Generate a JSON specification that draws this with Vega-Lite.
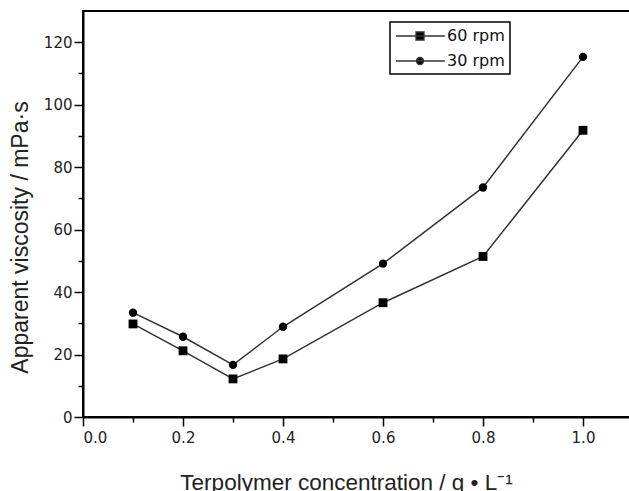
{
  "$schema": "https://vega.github.io/schema/vega-lite/v6.json",
  "width": 550,
  "height": 406,
  "autosize": "none",
  "padding": {"left": 83, "top": 11, "right": 0, "bottom": 74},
  "background": "white",
  "config": {
    "font": "Liberation Sans",
    "view": {"stroke": "black", "strokeWidth": 2},
    "axis": {
      "domainColor": "black",
      "domainWidth": 2,
      "tickColor": "black",
      "tickWidth": 1.5,
      "grid": false,
      "labelFont": "DejaVu Sans",
      "labelFontSize": 15,
      "labelColor": "#222",
      "titleFont": "Liberation Sans",
      "titleFontSize": 22.5,
      "titleFontWeight": "normal",
      "titleColor": "#222"
    }
  },
  "data": {
    "values": [
      {"c": 0.1, "v": 29.8, "s": "60 rpm"},
      {"c": 0.2, "v": 21.2, "s": "60 rpm"},
      {"c": 0.3, "v": 12.2, "s": "60 rpm"},
      {"c": 0.4, "v": 18.6, "s": "60 rpm"},
      {"c": 0.6, "v": 36.6, "s": "60 rpm"},
      {"c": 0.8, "v": 51.4, "s": "60 rpm"},
      {"c": 1.0, "v": 91.8, "s": "60 rpm"},
      {"c": 0.1, "v": 33.4, "s": "30 rpm"},
      {"c": 0.2, "v": 25.7, "s": "30 rpm"},
      {"c": 0.3, "v": 16.7, "s": "30 rpm"},
      {"c": 0.4, "v": 28.9, "s": "30 rpm"},
      {"c": 0.6, "v": 49.1, "s": "30 rpm"},
      {"c": 0.8, "v": 73.5, "s": "30 rpm"},
      {"c": 1.0, "v": 115.3, "s": "30 rpm"}
    ]
  },
  "layer": [
    {
      "mark": {"type": "line", "strokeWidth": 1.5},
      "encoding": {
        "x": {
          "field": "c", "type": "quantitative",
          "scale": {"domain": [0, 1.1], "nice": false, "zero": false},
          "axis": {
            "orient": "bottom",
            "values": [0, 0.2, 0.4, 0.6, 0.8, 1.0],
            "format": ".1f",
            "tickSize": 9,
            "labelPadding": 4,
            "title": "Terpolymer concentration  / g • L⁻¹",
            "titleX": 263,
            "titleY": 72,
            "titleAlign": "center",
            "titleBaseline": "alphabetic"
          }
        },
        "y": {
          "field": "v", "type": "quantitative",
          "scale": {"domain": [0, 130], "nice": false},
          "axis": {
            "orient": "left",
            "values": [0, 20, 40, 60, 80, 100, 120],
            "tickSize": 9,
            "labelPadding": 2,
            "title": "Apparent viscosity / mPa·s",
            "titleFontSize": 23,
            "titleX": -63,
            "titleY": 226,
            "titleAngle": -90,
            "titleAlign": "center",
            "titleBaseline": "middle"
          }
        },
        "color": {
          "field": "s", "type": "nominal",
          "scale": {"domain": ["60 rpm", "30 rpm"], "range": ["#333333", "#333333"]},
          "legend": {
            "title": null,
            "orient": "none",
            "legendX": 307,
            "legendY": 11,
            "strokeColor": "black",
            "padding": 5,
            "symbolSize": 256,
            "rowPadding": 8,
            "labelFontSize": 16,
            "labelFont": "DejaVu Sans",
            "labelColor": "#111",
            "labelOffset": 34,
            "encode": {
              "symbols": {
                "update": {
                  "shape": {"signal": "datum.value === '60 rpm' ? 'M-1,0H5.1M1.5,-0.5H2.5V0.5H1.5Z' : 'M-1,0H5.1M2.44,0A0.44,0.44 0 1 1 1.56,0A0.44,0.44 0 1 1 2.44,0Z'"},
                  "fill": {"value": "black"},
                  "stroke": {"value": "black"},
                  "strokeWidth": {"value": 1.3}
                }
              },
              "legend": {"update": {"strokeWidth": {"value": 1.5}}}
            }
          }
        }
      }
    },
    {
      "transform": [{"filter": "datum.s === '60 rpm'"}],
      "mark": {"type": "point", "shape": "square", "filled": true, "opacity": 1, "color": "black", "size": 78},
      "encoding": {
        "x": {
          "field": "c", "type": "quantitative",
          "axis": {
            "orient": "bottom",
            "values": [0.1, 0.3, 0.5, 0.7, 0.9],
            "labels": false,
            "domain": false,
            "tickSize": 5,
            "title": null
          }
        },
        "y": {
          "field": "v", "type": "quantitative",
          "axis": {
            "orient": "left",
            "values": [10, 30, 50, 70, 90, 110],
            "labels": false,
            "domain": false,
            "tickSize": 5,
            "title": null
          }
        }
      }
    },
    {
      "transform": [{"filter": "datum.s === '30 rpm'"}],
      "mark": {"type": "point", "shape": "circle", "filled": true, "opacity": 1, "color": "black", "size": 70},
      "encoding": {
        "x": {"field": "c", "type": "quantitative", "axis": null},
        "y": {"field": "v", "type": "quantitative", "axis": null}
      }
    }
  ],
  "resolve": {"axis": {"x": "independent", "y": "independent"}}
}
